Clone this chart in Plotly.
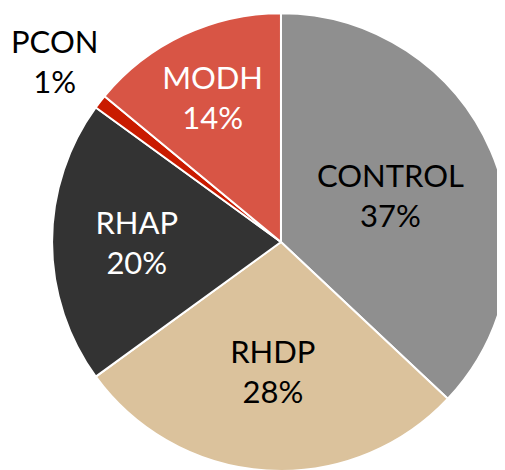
import plotly.graph_objects as go

# Slice data, clockwise from 12 o'clock
labels = ["CONTROL", "RHDP", "RHAP", "PCON", "MODH"]
values = [37, 28, 20, 1, 14]
colors = ["#8f8f8f", "#dbc29c", "#333333", "#c91b00", "#d85545"]
text_colors = ["black", "black", "white", "black", "white"]

total = sum(values)
pct = [round(v / total * 100) for v in values]
slice_text = [f"{l}<br>{p}%" for l, p in zip(labels, pct)]

# the tiny PCON slice is labelled outside the pie with an annotation
text_pos = ["inside" if l != "PCON" else "none" for l in labels]

fig = go.Figure()

fig.add_trace(
    go.Pie(
        labels=labels,
        values=values,
        text=slice_text,
        textinfo="text",
        textposition=text_pos,
        insidetextorientation="horizontal",
        sort=False,
        direction="clockwise",
        rotation=0,
        marker=dict(colors=colors, line=dict(color="white", width=2)),
        insidetextfont=dict(family="Lato", size=31, color=text_colors),
        showlegend=False,
        domain=dict(x=[0.087, 0.994], y=[0.015, 0.989]),
        hoverinfo="label+percent",
    )
)

i = labels.index("PCON")
fig.add_annotation(
    x=0.093, y=0.887, xref="paper", yref="paper",
    xanchor="center", yanchor="middle",
    text=slice_text[i], showarrow=False,
    font=dict(family="Lato", size=31, color="black"),
    align="center",
)

fig.update_layout(
    width=505,
    height=470,
    margin=dict(l=0, r=0, t=0, b=0),
    paper_bgcolor="white",
    plot_bgcolor="white",
)

fig.write_html("out.html")
